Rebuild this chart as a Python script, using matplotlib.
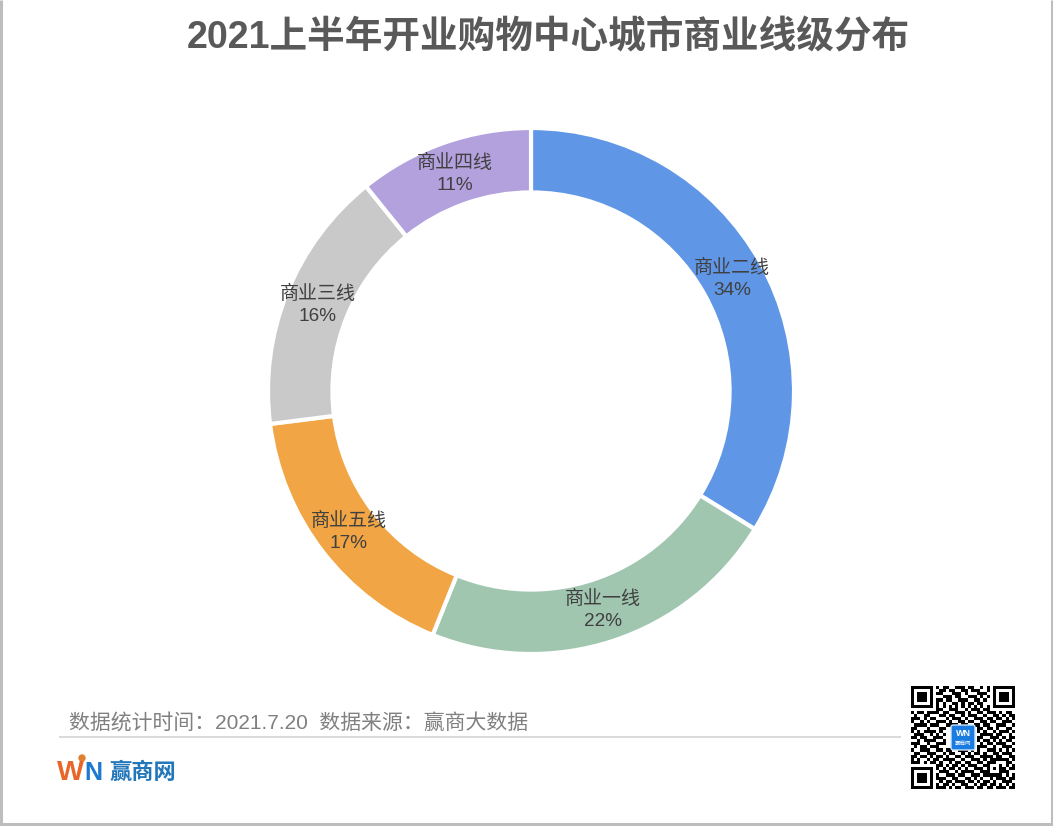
import matplotlib
matplotlib.use("Agg")
import matplotlib.pyplot as plt
from matplotlib.patches import Rectangle, FancyBboxPatch, Circle
import numpy as np

plt.rcParams['font.family'] = ['Liberation Sans', 'Noto Sans CJK SC', 'DejaVu Sans']

title = "2021上半年开业购物中心城市商业线级分布"
footer = "数据统计时间：2021.7.20  数据来源：赢商大数据"
categories = ["商业二线", "商业一线", "商业五线", "商业三线", "商业四线"]
values = [33.8, 22.3, 16.9, 16.2, 10.8]
colors = ["#5F97E6", "#A0C6B0", "#F1A544", "#C9C9C9", "#B3A1DE"]

qr_rows = [
    "111111101011001110110010101111111",
    "100000100110110011011100101000001",
    "101110101100011101000111001011101",
    "101110100011101100111010101011101",
    "101110101101100111001101001011101",
    "100000101010011010110110001000001",
    "111111101010101010101010101111111",
    "000000001100111001011101100000000",
    "101101111011001110100110111010110",
    "010011000110110010111001001101011",
    "111010110001011101001110110110101",
    "100101001110100110110011011001110",
    "011110111001111011001101100111001",
    "110001000110000000000110110100110",
    "101011110100000000000101001011101",
    "011100101010000000000011110110010",
    "110110011100000000000110011101011",
    "001011110010000000000101101010110",
    "111001001110000000000010110111001",
    "010110111000000000000111001001110",
    "100111001101100111010100111010101",
    "011001110010110010101101001101110",
    "110110101101001101110011110110011",
    "101001011011110010011101011111101",
    "111010110100101101100110111000110",
    "000000001101011010111001100010101",
    "111111101010110101001110101011011",
    "100000100111001011110011100011100",
    "101110101001110110011101111110101",
    "101110101110011001101010010111011",
    "101110100101101110110101101001110",
    "100000101011010011001011011010101",
    "111111101110101101110110110111011",
]

W, H = 1053, 826
fig = plt.figure(figsize=(W / 100, H / 100), dpi=100, facecolor="white")

# full-figure pixel overlay
bg = fig.add_axes([0, 0, 1, 1], zorder=0)
bg.set_xlim(0, W)
bg.set_ylim(H, 0)
bg.axis("off")

for x0, y0, x1, y1 in [(0.5, 0, 0.5, H), (W - 1, 0, W - 1, H), (0, H - 2, W, H - 2)]:
    bg.plot([x0, x1], [y0, y1], color="#BDBDBD", lw=2.2, solid_capstyle="butt")

bg.text(548, 38, title, ha="center", va="center", fontsize=27.1,
        fontweight="bold", color="#595959")
bg.text(69, 723, footer, ha="left", va="center", fontsize=15, color="#808080")
bg.plot([60, 900], [737, 737], color="#D9D9D9", lw=1.4)

# logo
bg.text(57, 773, "W", ha="left", va="center", fontsize=20.5, fontweight="bold", color="#E8662A")
bg.text(84, 773, "N", ha="left", va="center", fontsize=18, fontweight="bold", color="#1C79D1")
bg.add_patch(Circle((82, 758), 3, color="#E08030"))
bg.text(109, 773, "赢商网", ha="left", va="center", fontsize=16, fontweight="bold", color="#2277BB")

# QR code
qr = np.array([[int(c) for c in r] for r in qr_rows])
bg.imshow(1 - qr, cmap="gray", vmin=0, vmax=1, extent=(911, 1015, 789, 686),
          interpolation="nearest", aspect="auto", zorder=2)
bg.set_xlim(0, W)
bg.set_ylim(H, 0)
bg.add_patch(FancyBboxPatch((951, 725), 24, 25, boxstyle="round,pad=0,rounding_size=2",
                            fc="#1A7CE0", ec="#CFE4FA", lw=1, zorder=3))
bg.text(963, 734, "WN", ha="center", va="center", fontsize=6.5, fontweight="bold",
        color="white", zorder=4)
bg.text(963, 743, "赢商网", ha="center", va="center", fontsize=4, color="white", zorder=4)

# donut
cx, cy, R = 531, 391, 263
ax = fig.add_axes([(cx - R) / W, 1 - (cy + R) / H, 2 * R / W, 2 * R / H], zorder=1)
ax.patch.set_alpha(0)
wedges, _ = ax.pie(values, colors=colors, startangle=90, counterclock=False, radius=1,
                   wedgeprops=dict(width=0.245, edgecolor="white", linewidth=3))
ax.set_xlim(-1, 1)
ax.set_ylim(-1, 1)
ax.set_aspect("equal")
for w, name, v in zip(wedges, categories, values):
    a = np.deg2rad((w.theta1 + w.theta2) / 2)
    ax.text(0.875 * np.cos(a), 0.875 * np.sin(a), f"{name}\n{v:.0f}%", ha="center", va="center",
            fontsize=13.7, color="#404040", linespacing=1.38)

fig.savefig("out.png", dpi=100, facecolor="white")
